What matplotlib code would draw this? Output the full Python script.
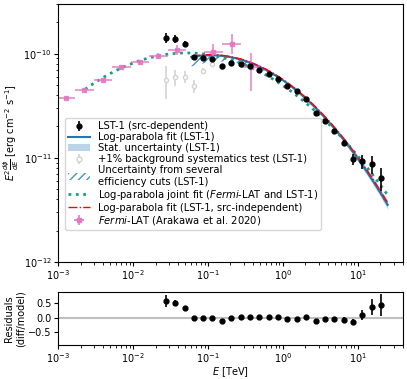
import numpy as np
import matplotlib
matplotlib.use("Agg")
import matplotlib.pyplot as plt
from matplotlib.lines import Line2D
from matplotlib.patches import Patch
from matplotlib.container import ErrorbarContainer
from matplotlib.collections import LineCollection

# --- LST-1 src-dependent flux points (TeV, erg cm-2 s-1)
lst_e = [0.0274, 0.0365, 0.0487, 0.0649, 0.0866, 0.115, 0.154, 0.205, 0.274, 0.365, 0.487, 0.649,
         0.866, 1.15, 1.54, 2.05, 2.74, 3.65, 4.87, 6.49, 8.66, 11.5, 15.4, 20.5]
lst_flux = [1.43e-10, 1.39e-10, 1.24e-10, 9.2e-11, 9.1e-11, 8.8e-11, 7.6e-11, 8.15e-11, 7.97e-11, 7.6e-11,
            6.93e-11, 6.4e-11, 5.77e-11, 4.95e-11, 4.38e-11, 3.65e-11, 2.67e-11, 2.27e-11, 1.82e-11,
            1.39e-11, 9.7e-12, 9.3e-12, 8.65e-12, 6.45e-12]
lst_err = [1.6e-11, 1.25e-11, 7e-12, 3e-12, 2.5e-12, 2.2e-12, 2e-12, 1.8e-12, 1.6e-12, 1.5e-12, 1.3e-12,
           1.2e-12, 1.1e-12, 1e-12, 9e-13, 8e-13, 7e-13, 7e-13, 8e-13, 1e-12, 1.2e-12, 1.4e-12, 1.7e-12, 1.6e-12]

# residuals (diff/model)
res = [0.59, 0.53, 0.33, -0.02, -0.01, -0.02, -0.12, -0.02, 0.01, 0.01, 0.01, 0.02, 0.03, -0.04, -0.04,
       0.02, -0.1, -0.05, -0.04, -0.06, -0.14, 0.1, 0.39, 0.44]
res_err = [0.2, 0.1, 0.07, 0.03, 0.03, 0.03, 0.03, 0.02, 0.02, 0.02, 0.02, 0.02, 0.02, 0.02, 0.02, 0.02,
           0.03, 0.04, 0.05, 0.07, 0.11, 0.17, 0.28, 0.39]

# +1% background systematics test
bkg_e = [0.0274, 0.0365, 0.0487, 0.0649, 0.0866, 0.115, 0.154]
bkg_flux = [5.65e-11, 5.94e-11, 5.98e-11, 4.89e-11, 6.79e-11, 8.03e-11, 7.5e-11]
bkg_err = [2e-11, 1e-11, 8e-12, 7e-12, 4.5e-12, 3.5e-12, 3e-12]

# Fermi-LAT (Arakawa et al. 2020)
fermi_e = [1.28e-3, 2.25e-3, 3.98e-3, 7.03e-3, 1.24e-2, 2.19e-2, 3.86e-2, 0.118, 0.207, 0.371]
fermi_flux = [3.75e-11, 4.5e-11, 5.57e-11, 7.4e-11, 8.3e-11, 9.6e-11, 1.09e-10, 1.04e-10, 1.24e-10, 7.5e-11]
fermi_lo = [1e-12, 1.2e-12, 1.5e-12, 2e-12, 3.7e-12, 6.5e-12, 1.2e-11, 1.6e-11, 2.5e-11, 3.1e-11]
fermi_hi = [1e-12, 1.2e-12, 1.5e-12, 2e-12, 3.7e-12, 6.5e-12, 1.2e-11, 1.9e-11, 3.0e-11, 2.7e-11]
fermi_halfbin = 0.125  # dex

# log-parabola parameters: f0 [erg cm-2 s-1] at 1 TeV, alpha, beta (log10)
fit_lst = (5.56e-11, 2.497, 0.2566)
fit_stat_lo = (5.45e-11, 2.507, 0.2666)
fit_stat_hi = (5.67e-11, 2.487, 0.2466)
fit_cuts = [(5.43e-11, 2.465, 0.2855), (5.68e-11, 2.492, 0.2540)]
fit_joint = (4.95e-11, 2.4875, 0.19)
fit_indep = (5.66e-11, 2.492, 0.2545)


def logparabola(e, f0, alpha, beta):
    x = np.log10(e)
    return f0 * e ** (2 - alpha - beta * x)


e_lst = np.logspace(np.log10(0.06), np.log10(25), 200)
e_joint = np.logspace(np.log10(2.3e-3), np.log10(25), 300)

fs = 7
plt.rcParams["xtick.major.size"] = 3
plt.rcParams["ytick.major.size"] = 3
plt.rcParams["xtick.minor.size"] = 1.8
plt.rcParams["ytick.minor.size"] = 1.8

fig = plt.figure(figsize=(4.07, 3.79), dpi=100)
ax = fig.add_axes([58 / 407, 1 - 262 / 379, 345 / 407, 258 / 379])
axr = fig.add_axes([58 / 407, 1 - 345 / 379, 345 / 407, 53 / 379])

# bands
cuts = np.array([logparabola(e_lst, *p) for p in fit_cuts] + [logparabola(e_lst, *fit_lst)])
ax.fill_between(e_lst, cuts.min(axis=0), cuts.max(axis=0), facecolor="none", edgecolor="C0",
                hatch="////", linewidth=0, alpha=0.8)
ax.fill_between(e_lst, logparabola(e_lst, *fit_stat_lo), logparabola(e_lst, *fit_stat_hi),
                color="C0", alpha=0.3, linewidth=0)
ax.plot(e_lst, logparabola(e_lst, *fit_lst), color="C0", lw=1.5)
ax.plot(e_joint, logparabola(e_joint, *fit_joint), color="#1a9e80", ls=":", lw=2)
ax.plot(e_lst, logparabola(e_lst, *fit_indep), color="red", ls="-.", lw=1)

xlo = np.array(fermi_e) * (1 - 10 ** -fermi_halfbin)
xhi = np.array(fermi_e) * (10 ** fermi_halfbin - 1)
ax.errorbar(fermi_e, fermi_flux, xerr=[xlo, xhi], yerr=[fermi_lo, fermi_hi], fmt="s", ms=3,
            color="C6", alpha=0.85, lw=1.2)
ax.errorbar(bkg_e, bkg_flux, yerr=bkg_err, fmt="o", ms=3, mfc="white", color="lightgray", lw=1.2)
ax.errorbar(lst_e, lst_flux, yerr=lst_err, fmt="o", ms=3.5, color="black", lw=1.2)

ax.set_xscale("log")
ax.set_yscale("log")
ax.set_xlim(1e-3, 40)
ax.set_ylim(1e-12, 3e-10)
ax.set_ylabel(r"$E^2\frac{d\phi}{dE}$ [erg cm$^{-2}$ s$^{-1}$]", fontsize=fs, labelpad=2)
ax.tick_params(labelsize=fs, pad=1.5)


# legend handles in the original order
def eb_handle(color, mfc=None, xerr=False):
    ln = Line2D([], [], color=color, marker="s" if xerr else "o", ms=3 if xerr else 3.5,
                ls="none", mfc=mfc if mfc else color)
    cols = [LineCollection([], colors=color, linewidths=1.2)]
    if xerr:
        cols.append(LineCollection([], colors=color, linewidths=1.2))
    return ErrorbarContainer((ln, (), tuple(cols)), has_xerr=xerr, has_yerr=True)


handles = [
    eb_handle("black"),
    Line2D([], [], color="C0", lw=1.5),
    Patch(facecolor="C0", alpha=0.3, linewidth=0),
    eb_handle("lightgray", mfc="white"),
    Patch(facecolor="none", edgecolor="C0", hatch="////", linewidth=0, alpha=0.8),
    Line2D([], [], color="#1a9e80", ls=":", lw=2),
    Line2D([], [], color="red", ls="-.", lw=1),
    eb_handle("C6", xerr=True),
]
labels = [
    "LST-1 (src-dependent)",
    "Log-parabola fit (LST-1)",
    "Stat. uncertainty (LST-1)",
    "+1% background systematics test (LST-1)",
    "Uncertainty from several\nefficiency cuts (LST-1)",
    r"Log-parabola joint fit ($\it{Fermi}$-LAT and LST-1)",
    "Log-parabola fit (LST-1, src-independent)",
    r"$\it{Fermi}$-LAT (Arakawa et al. 2020)",
]
ax.legend(handles, labels, loc="lower left", bbox_to_anchor=(0.005, 0.105), fontsize=7.2,
          handlelength=2.2, labelspacing=0.1, borderpad=0.3, handletextpad=0.8,
          framealpha=0.8)

# residuals
axr.axhline(0, color="silver", lw=1.5)
axr.errorbar(lst_e, res, yerr=res_err, fmt="o", ms=3.5, color="black", lw=1.2)
axr.set_xscale("log")
axr.set_xlim(1e-3, 40)
axr.set_ylim(-0.95, 0.9)
axr.set_yticks([-0.5, 0.0, 0.5])
axr.set_xlabel(r"$E$ [TeV]", fontsize=fs, labelpad=0)
axr.set_ylabel("Residuals\n(diff/model)", fontsize=fs, labelpad=2)
axr.tick_params(labelsize=fs, pad=1.5)

fig.savefig("out.png", dpi=100)
